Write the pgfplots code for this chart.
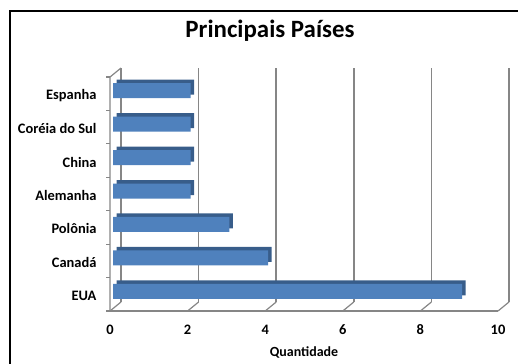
\documentclass[border=0pt]{standalone}
\usepackage{fontspec}
\setmainfont{Carlito}
\usepackage{pgfplots}
\pgfplotsset{compat=1.18}
\definecolor{barfront}{RGB}{79,129,189}
\definecolor{barside}{RGB}{56,93,138}
\definecolor{gridgray}{RGB}{134,134,134}
\begin{document}
\begin{tikzpicture}
\path[use as bounding box] (0bp,0bp) rectangle (518bp,364bp);
\draw[line width=2bp] (10bp,0bp) -- (10bp,353bp) -- (518bp,353bp);
\node[font=\bfseries\fontsize{25}{29}\selectfont] at (270bp,333bp) {Principais Países};
\begin{axis}[
  at={(110bp,53bp)}, anchor=south west, scale only axis,
  width=388bp, height=234bp,
  xmin=0, xmax=10, ymin=-0.5, ymax=6.5,
  xtick={0,2,4,6,8,10}, ytick={0,1,2,3,4,5,6},
  yticklabels={EUA,Canadá,Polônia,Alemanha,China,Coréia do Sul,Espanha},
  major tick length=0pt,
  axis line style={draw=none},
  /pgf/number format/assume math mode=true,
  tick label style={font=\bfseries\fontsize{14.5}{17}\selectfont},
  xticklabel style={anchor=center, yshift=-19bp},
  yticklabel style={anchor=east, xshift=-10bp, yshift=-1.5bp},
  xlabel={Quantidade},
  xlabel style={font=\bfseries\fontsize{14}{16}\selectfont, at={(axis description cs:0.5,0)}, anchor=center, yshift=-41bp},
  xbar, bar width=15bp,
  clip=false,
]
\pgfplotsinvokeforeach{0,2,4,6,8,10}{
  \draw[gridgray, line width=1.7bp] (axis cs:#1,-0.5) ++(11bp,9bp) -- ++(0bp,234bp);
  \draw[gridgray, line width=1.2bp] (axis cs:#1,-0.5) -- ++(11bp,9bp);
}
\draw[gridgray, line width=1.5bp] (axis cs:0,-0.5) -- (axis cs:10,-0.5);
\draw[gridgray, line width=1.2bp] (axis cs:0,-0.5) -- (axis cs:0,6.5) -- ++(11bp,9bp);
\pgfplotsinvokeforeach{-0.5,0.5,1.5,2.5,3.5,4.5,5.5,6.5}{
  \draw[gridgray, line width=1.2bp] (axis cs:0,#1) -- ++(-4bp,0bp);
}
\addplot[fill=barside, draw=none, bar shift=0pt, xshift=6.5bp, yshift=6.5bp]
  coordinates {(9,0) (4,1) (3,2) (2,3) (2,4) (2,5) (2,6)};
\addplot[fill=barfront, draw=none, bar shift=0pt, xshift=3bp, yshift=3bp]
  coordinates {(9,0) (4,1) (3,2) (2,3) (2,4) (2,5) (2,6)};
\end{axis}
\end{tikzpicture}
\end{document}
